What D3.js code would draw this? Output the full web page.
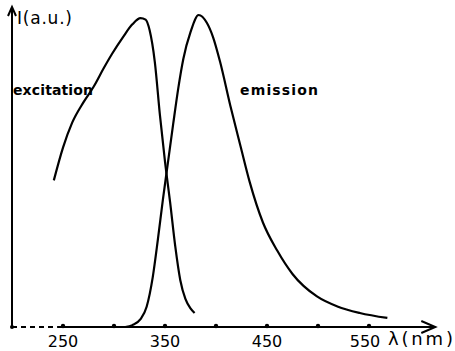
<!DOCTYPE html>
<html>
<head>
<meta charset="utf-8">
<script src="https://cdn.jsdelivr.net/npm/d3@7"></script>
<style>
  html, body { margin: 0; padding: 0; background: #fff; }
  svg { display: block; }
  text { font-family: "DejaVu Sans", sans-serif; fill: #000; }
</style>
</head>
<body>
<div id="chart"></div>
<script>
// Excitation spectrum: wavelength (nm) and intensity (a.u.)
const excitationWavelength = [241, 250, 259, 270, 280, 290, 298, 309, 318, 326, 331, 335, 340, 345, 350, 355, 360, 365, 370, 375, 379];
const excitationIntensity  = [0.47, 0.575, 0.655, 0.72, 0.77, 0.83, 0.875, 0.93, 0.97, 0.99, 0.985, 0.95, 0.85, 0.68, 0.53, 0.40, 0.26, 0.15, 0.09, 0.06, 0.045];

// Emission spectrum: wavelength (nm) and intensity (a.u.)
const emissionWavelength = [311, 318, 326, 332, 338, 343, 348, 353, 358, 363, 368, 375, 383, 391, 397, 404, 414, 424, 433, 446, 460, 475, 499, 519, 541, 568];
const emissionIntensity  = [0, 0.006, 0.025, 0.065, 0.16, 0.28, 0.41, 0.53, 0.65, 0.765, 0.86, 0.945, 1.0, 0.975, 0.93, 0.85, 0.71, 0.58, 0.465, 0.335, 0.245, 0.17, 0.098, 0.066, 0.045, 0.029];

// Axis marks
const tickValues = [250, 300, 350, 400, 450, 500, 550];
const tickLabels = ["250", "", "350", "", "450", "", "550"];

const W = 455, H = 351;
const svg = d3.select("#chart").append("svg").attr("width", W).attr("height", H);

const x = d3.scaleLinear().domain([250, 550]).range([63, 369]);
const y = d3.scaleLinear().domain([0, 1]).range([327, 15]);

const originX = x(200);
const baseY = y(0);

// x axis: dashed stub near origin, solid line to the arrow
svg.append("line")
  .attr("x1", originX).attr("x2", x(245)).attr("y1", baseY).attr("y2", baseY)
  .attr("stroke", "#000").attr("stroke-width", 2).attr("stroke-dasharray", "5,4");
svg.append("line")
  .attr("x1", x(245)).attr("x2", x(615)).attr("y1", baseY).attr("y2", baseY)
  .attr("stroke", "#000").attr("stroke-width", 2);
// x arrow head
const ax = x(615);
svg.append("path")
  .attr("d", `M${ax - 14},${baseY - 6} L${ax},${baseY} L${ax - 14},${baseY + 6}`)
  .attr("fill", "none").attr("stroke", "#000").attr("stroke-width", 2);

// y axis with arrow head
svg.append("line")
  .attr("x1", originX).attr("x2", originX).attr("y1", baseY).attr("y2", 8)
  .attr("stroke", "#000").attr("stroke-width", 2);
svg.append("path")
  .attr("d", `M${originX - 4},${16} L${originX},${7} L${originX + 4},${16}`)
  .attr("fill", "none").attr("stroke", "#000").attr("stroke-width", 2);
svg.append("circle").attr("cx", originX).attr("cy", baseY).attr("r", 2);

// tick dots and labels
svg.selectAll("circle.tick").data(tickValues).enter().append("circle")
  .attr("class", "tick").attr("cx", d => x(d)).attr("cy", baseY - 1).attr("r", 2.2).attr("fill", "#000");
svg.selectAll("text.tick").data(tickValues).enter().append("text")
  .attr("class", "tick")
  .attr("x", d => x(d) - (d === 550 ? 4 : 0)).attr("y", 347)
  .attr("text-anchor", "middle")
  .attr("font-size", 16)
  .text((d, i) => tickLabels[i]);

// axis titles
svg.append("text").attr("x", 388).attr("y", 345).attr("font-size", 18)
  .attr("textLength", 65).text("λ(nm)");
svg.append("text").attr("x", 17).attr("y", 24).attr("font-size", 17)
  .attr("textLength", 55).text("I(a.u.)");

// spectra
const line = d3.line().curve(d3.curveMonotoneX);
const excitation = excitationWavelength.map((w, i) => [x(w), y(excitationIntensity[i])]);
const emission = emissionWavelength.map((w, i) => [x(w), y(emissionIntensity[i])]);

svg.append("path").attr("d", line(excitation))
  .attr("fill", "none").attr("stroke", "#000").attr("stroke-width", 2.2).attr("stroke-linejoin", "round");
svg.append("path").attr("d", line(emission))
  .attr("fill", "none").attr("stroke", "#000").attr("stroke-width", 2.2).attr("stroke-linejoin", "round");

// curve labels
svg.append("text").attr("x", 13).attr("y", 95).attr("font-size", 14).attr("font-weight", "bold")
  .attr("textLength", 80).text("excitation");
svg.append("text").attr("x", 240).attr("y", 95).attr("font-size", 14).attr("font-weight", "bold")
  .attr("textLength", 78).text("emission");
</script>
</body>
</html>
